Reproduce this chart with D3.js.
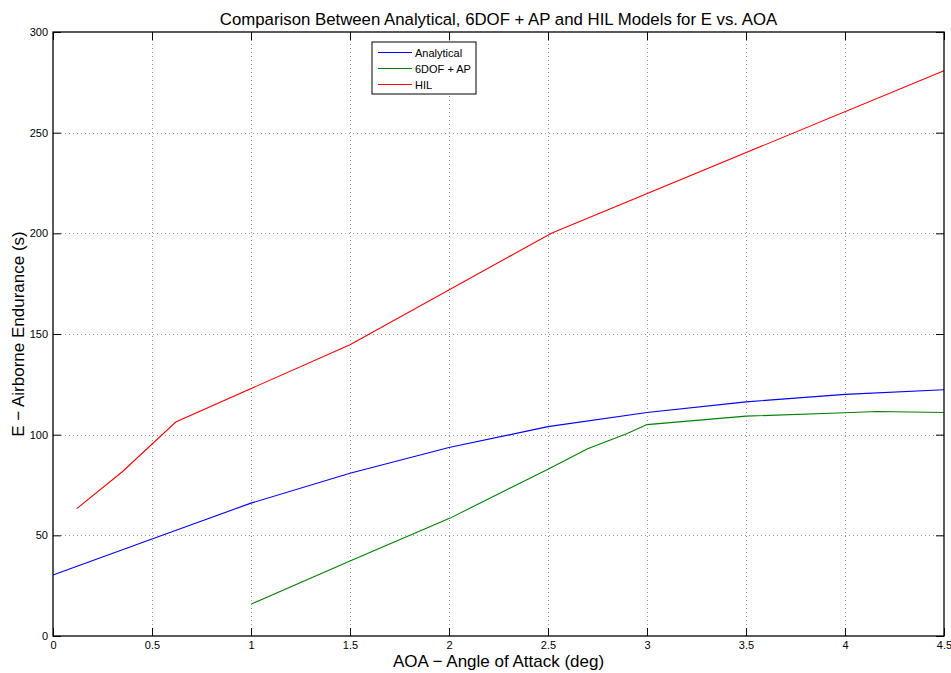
<!DOCTYPE html>
<html lang="en">
<head>
<meta charset="utf-8">
<title>E vs AOA</title>
<script src="https://d3js.org/d3.v7.min.js"></script>
<style>
  body { margin: 0; background: #fff; }
  svg { font-family: "Liberation Sans", Arial, Helvetica, sans-serif; }
  .grid line { stroke: #999; stroke-width: 1; stroke-dasharray: 1,3; shape-rendering: crispEdges; }
  .tick text { font-size: 11px; fill: #000; }
</style>
</head>
<body>
<script>
// data
var xTicks = [0, 0.5, 1, 1.5, 2, 2.5, 3, 3.5, 4, 4.5];
var yTicks = [0, 50, 100, 150, 200, 250, 300];

var analyticalAoa = [0, 0.5, 1, 1.5, 2, 2.5, 3, 3.5, 4, 4.5];
var analyticalE   = [30.3, 48.2, 66, 80.8, 93.6, 104, 111, 116.3, 120, 122.3];

var sixdofAoa = [1, 1.5, 2, 2.5, 2.7, 2.9, 3, 3.5, 4, 4.16, 4.5];
var sixdofE   = [15.8, 37.2, 58.3, 82.8, 93, 100.6, 105, 109.2, 110.9, 111.5, 111];

var hilAoa = [0.12, 0.35, 0.62, 1.5, 2.52, 4.5];
var hilE   = [63.3, 81.6, 106.3, 144.7, 200.2, 280.8];

var w = 951, h = 673;
var pLeft = 53, pRight = 944, pTop = 32, pBottom = 636;

var svg = d3.select("body").append("svg")
    .attr("width", w)
    .attr("height", h);

var xScale = d3.scaleLinear().domain([0, 4.5]).range([pLeft, pRight]);
var yScale = d3.scaleLinear().domain([0, 300]).range([pBottom, pTop]);

// grid
svg.append("g").attr("class", "grid")
  .selectAll("line").data(xTicks.slice(1, -1)).enter().append("line")
    .attr("x1", function(d) { return Math.round(xScale(d)) + 0.5; })
    .attr("x2", function(d) { return Math.round(xScale(d)) + 0.5; })
    .attr("y1", pTop).attr("y2", pBottom);
svg.append("g").attr("class", "grid")
  .selectAll("line").data(yTicks.slice(1, -1)).enter().append("line")
    .attr("y1", function(d) { return Math.round(yScale(d)) + 0.5; })
    .attr("y2", function(d) { return Math.round(yScale(d)) + 0.5; })
    .attr("x1", pLeft).attr("x2", pRight);

// lines
var line = d3.line()
    .x(function(d) { return xScale(d[0]); })
    .y(function(d) { return yScale(d[1]); });

var series = [
  { name: "Analytical", color: "#0000ff", x: analyticalAoa, y: analyticalE },
  { name: "6DOF + AP", color: "#008000", x: sixdofAoa, y: sixdofE },
  { name: "HIL", color: "#ff0000", x: hilAoa, y: hilE }
];

series.forEach(function(s) {
  svg.append("path")
    .datum(d3.zip(s.x, s.y))
    .attr("fill", "none")
    .attr("stroke", s.color)
    .attr("stroke-width", 1.1)
    .attr("d", line);
});

// axes (MATLAB style, ticks inside, mirrored)
var xAxis = d3.axisBottom(xScale).tickValues(xTicks).tickSizeInner(-8).tickSizeOuter(0).tickPadding(5)
    .tickFormat(d3.format("~g"));
var yAxis = d3.axisLeft(yScale).tickValues(yTicks).tickSizeInner(-8).tickSizeOuter(0).tickPadding(5);

svg.append("g")
    .attr("transform", "translate(0," + pBottom + ")")
    .call(xAxis);
svg.append("g")
    .attr("transform", "translate(" + pLeft + ",0)")
    .call(yAxis);
svg.append("g")
    .attr("transform", "translate(0," + pTop + ")")
    .call(d3.axisTop(xScale).tickValues(xTicks).tickSizeInner(-8).tickSizeOuter(0).tickFormat(""));
svg.append("g")
    .attr("transform", "translate(" + pRight + ",0)")
    .call(d3.axisRight(yScale).tickValues(yTicks).tickSizeInner(-8).tickSizeOuter(0).tickFormat(""));

svg.selectAll(".domain").remove();
svg.selectAll(".tick line").attr("stroke", "#000");

// box
svg.append("rect")
    .attr("x", pLeft).attr("y", pTop)
    .attr("width", pRight - pLeft).attr("height", pBottom - pTop)
    .attr("fill", "none").attr("stroke", "#000").attr("stroke-width", 1.3);

// titles
svg.append("text")
    .attr("x", (pLeft + pRight) / 2).attr("y", 25)
    .attr("text-anchor", "middle")
    .style("font-size", "16.8px")
    .text("Comparison Between Analytical, 6DOF + AP and HIL Models for E vs. AOA");

svg.append("text")
    .attr("x", (pLeft + pRight) / 2).attr("y", 667)
    .attr("text-anchor", "middle")
    .style("font-size", "17px")
    .text("AOA \u2212 Angle of Attack (deg)");

svg.append("text")
    .attr("transform", "translate(24," + (pTop + pBottom) / 2 + ") rotate(-90)")
    .attr("text-anchor", "middle")
    .style("font-size", "17px")
    .text("E \u2212 Airborne Endurance (s)");

// legend
var lg = svg.append("g").attr("transform", "translate(372,42)");
lg.append("rect")
    .attr("width", 104).attr("height", 52)
    .attr("fill", "#fff").attr("stroke", "#000").attr("stroke-width", 1);
series.forEach(function(s, i) {
  var yy = 10.5 + i * 16;
  lg.append("line")
    .attr("x1", 6).attr("x2", 40).attr("y1", yy).attr("y2", yy)
    .attr("stroke", s.color).attr("stroke-width", 1);
  lg.append("text")
    .attr("x", 43).attr("y", yy + 4)
    .style("font-size", "11px")
    .text(s.name);
});
</script>
</body>
</html>
